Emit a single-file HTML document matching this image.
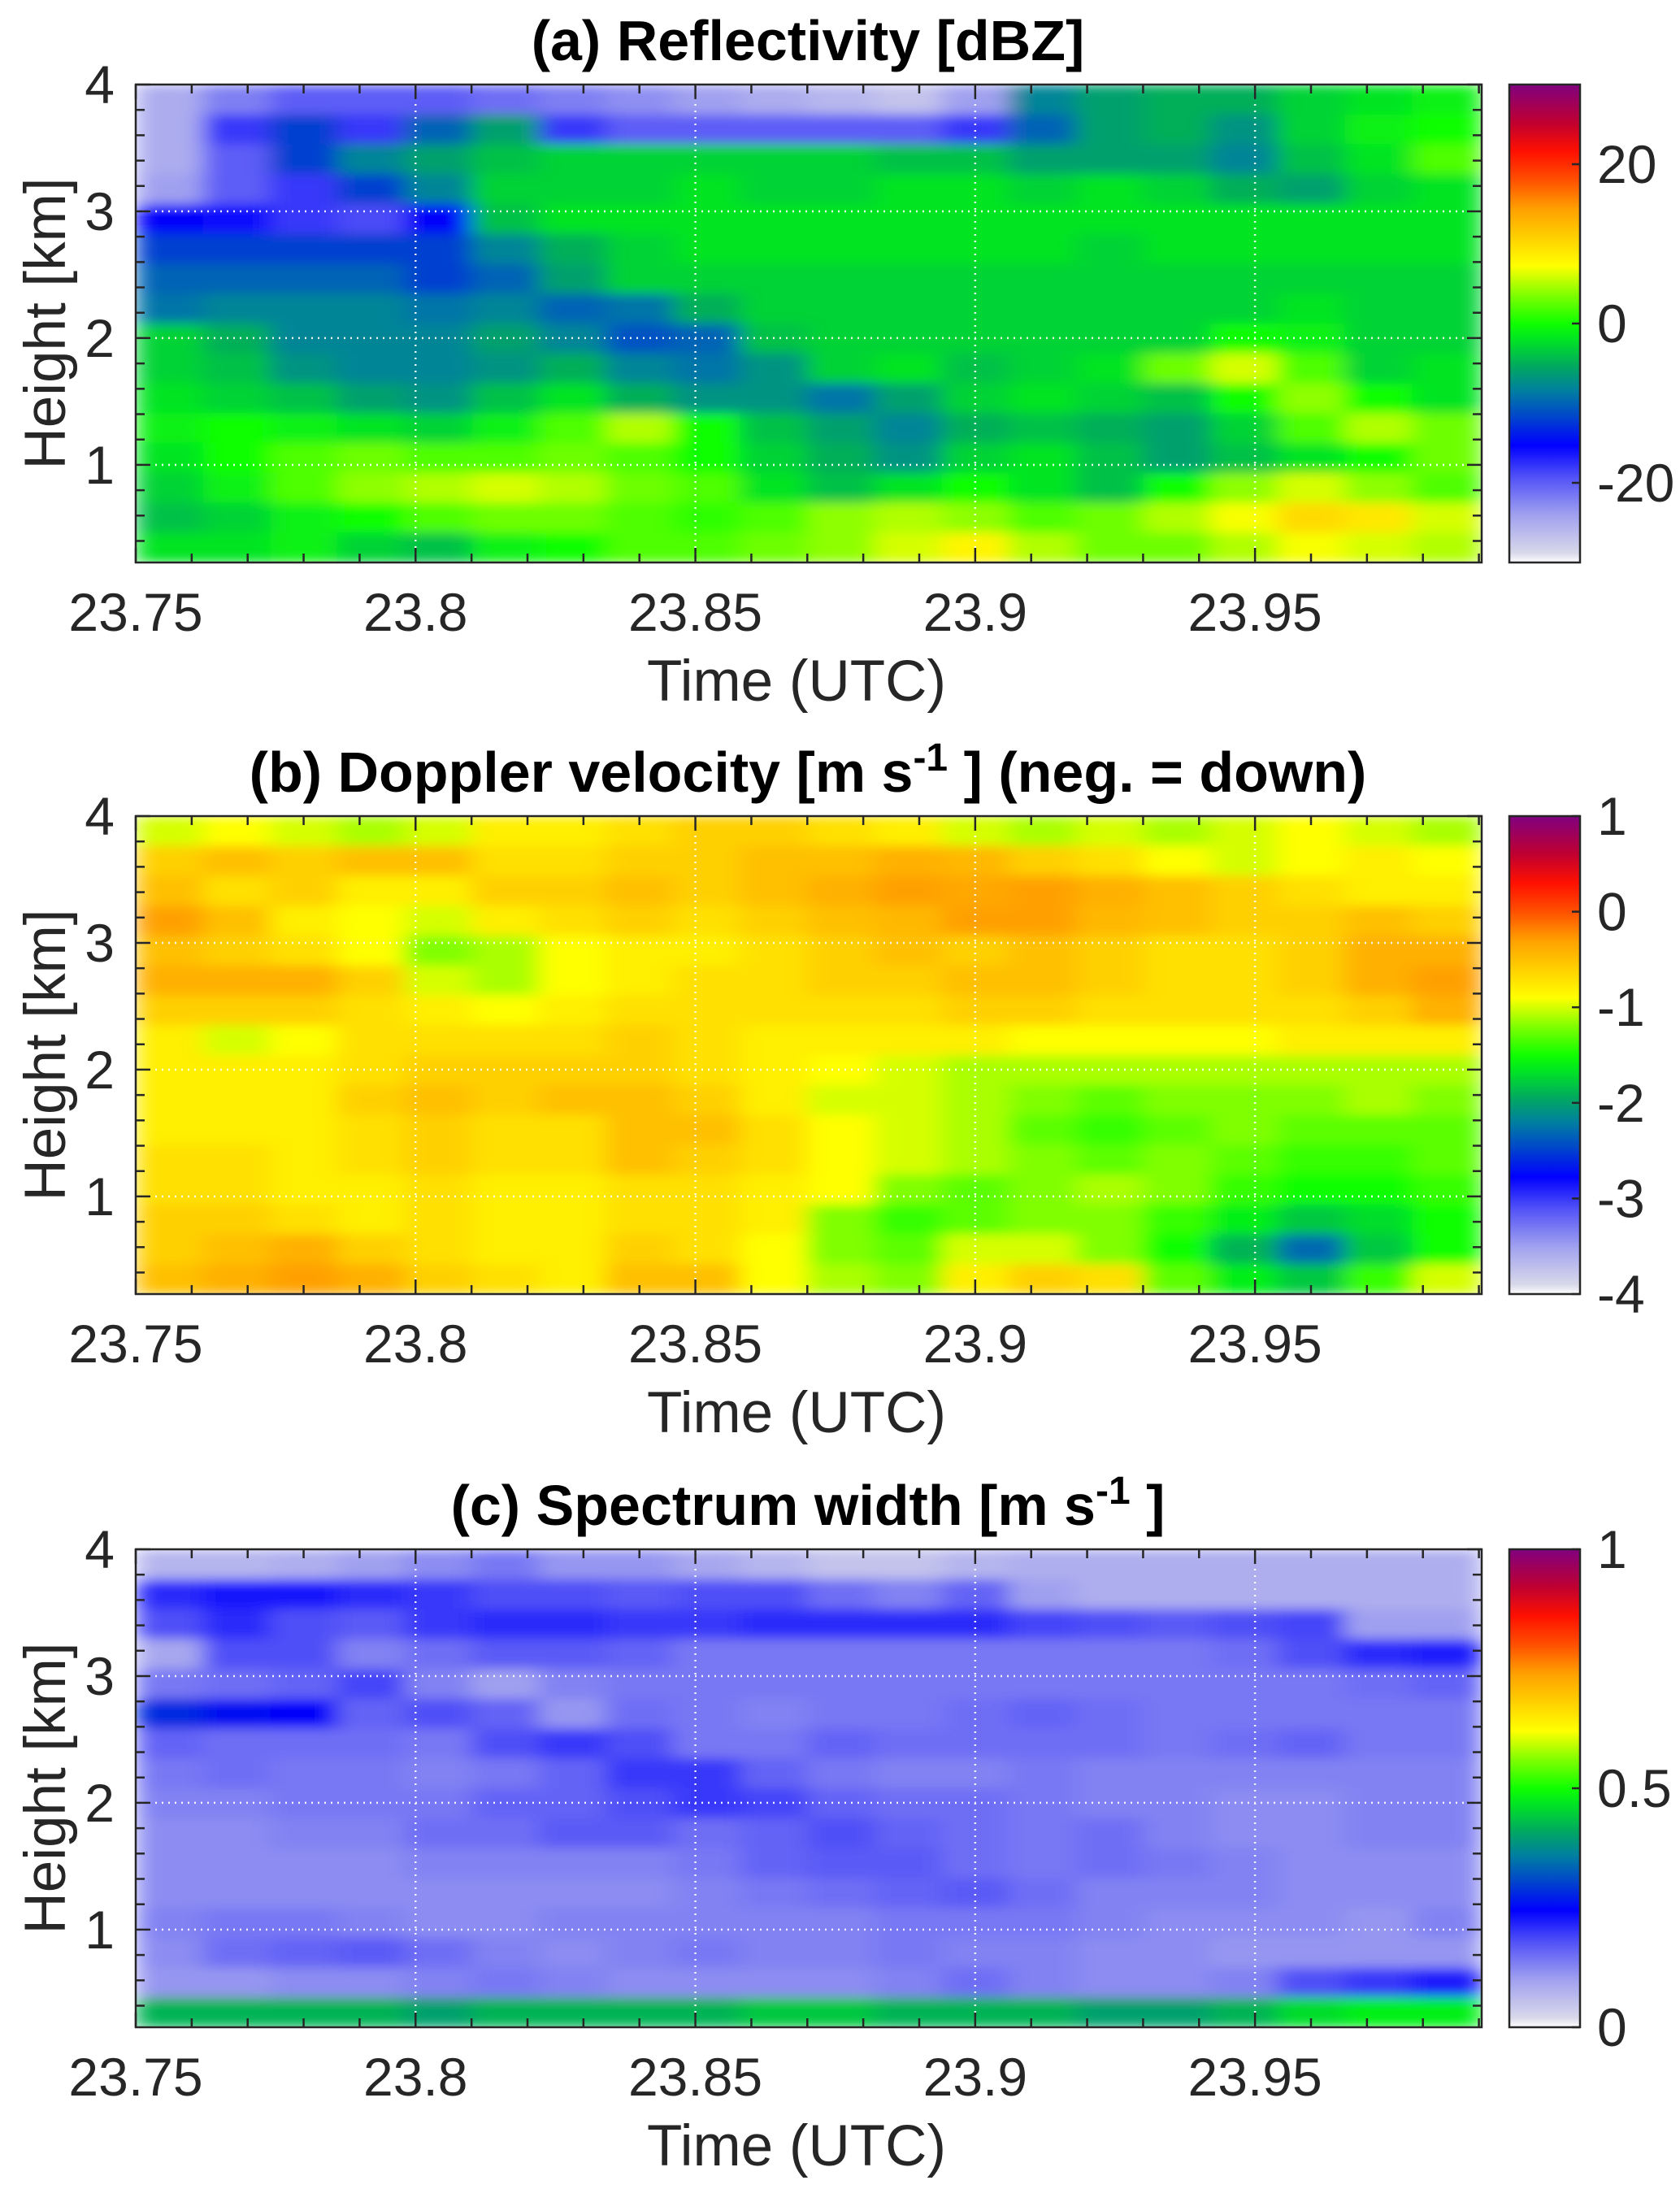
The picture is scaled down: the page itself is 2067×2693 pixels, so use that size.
<!DOCTYPE html>
<html><head><meta charset="utf-8">
<style>
html,body{margin:0;padding:0;background:#fff;}
svg{display:block;font-family:"Liberation Sans",Arial,sans-serif;}
</style></head>
<body>
<svg id="fig" width="2067" height="2693" viewBox="0 0 2067 2693" xmlns="http://www.w3.org/2000/svg">
<defs>
<linearGradient id="cmapGrad" x1="0" y1="1" x2="0" y2="0"></linearGradient>
</defs>
</svg>
<script>
// ---- shared axis data ----
const timeTicks = [23.75, 23.8, 23.85, 23.9, 23.95];
const timeTickLabels = ["23.75", "23.8", "23.85", "23.9", "23.95"];
const heightTicks = [1, 2, 3, 4];
const heightTickLabels = ["1", "2", "3", "4"];
const timeRange = [23.75, 23.9905];
const heightRange = [0.23, 4.0];
// cell grid: 20 time columns, 16 height rows (top row first)
const timeCols = [23.75,23.762,23.774,23.786,23.798,23.81,23.822,23.834,23.846,23.858,23.87,23.882,23.894,23.906,23.918,23.93,23.942,23.954,23.966,23.978,23.9905];
const heightRows = [4.0,3.764,3.529,3.293,3.058,2.822,2.586,2.351,2.115,1.879,1.644,1.408,1.173,0.937,0.701,0.466,0.23];

// ---- panel (a) reflectivity [dBZ] ----
const reflectivity = [
[-25,-22,-20,-20,-20,-21,-22,-23,-24,-25,-26,-27,-24,-8,-6,-5,-5,-3,-2,-1],
[-25,-18,-12,-18,-10,-6,-18,-20,-20,-20,-20,-20,-18,-10,-6,-5,-7,-3,-1,0],
[-25,-20,-12,-8,-6,-4,-3,-3,-3,-3,-3,-4,-4,-6,-6,-6,-8,-4,-2,2],
[-24,-20,-18,-12,-8,-3,-3,-3,-2,-3,-3,-2,-2,-3,-2,-3,-5,-6,-3,-2],
[-15,-16,-18,-19,-15,-4,-2,-2,-2,-2,-2,-2,-2,-2,-2,-2,-2,-2,-2,-2],
[-12,-12,-12,-12,-12,-8,-5,-3,-2,-2,-2,-2,-2,-2,-3,-2,-2,-2,-2,-2],
[-10,-10,-10,-10,-12,-10,-6,-3,-3,-3,-3,-3,-3,-3,-3,-3,-3,-3,-3,-3],
[-9,-8,-8,-8,-9,-8,-10,-9,-5,-3,-3,-3,-3,-3,-3,-3,-3,-2,-3,-3],
[-3,-5,-8,-8,-8,-6,-8,-11,-10,-4,-3,-3,-3,-3,-3,-3,0,-1,-3,-3],
[-3,-4,-7,-8,-8,-7,-5,-8,-9,-7,-3,-2,-4,-3,-2,3,6,2,-3,-2],
[-2,-3,-4,-6,-7,-4,-2,-5,-7,-7,-9,-6,-3,-2,-3,-4,0,4,0,-2],
[-1,0,-1,-2,-3,-1,2,5,0,-4,-6,-8,-5,-4,-5,-6,-3,2,5,3],
[-2,0,2,3,2,2,3,2,0,-3,-5,-7,-3,-2,-4,-6,-4,-2,0,3],
[-3,-1,2,4,5,6,5,3,2,-2,-4,-2,0,-2,-4,0,4,6,4,2],
[-4,-3,-1,0,2,3,3,2,1,2,4,5,4,2,3,5,7,10,9,6],
[-2,-2,-1,-3,-4,-1,0,2,2,3,4,6,8,5,3,3,5,7,6,5]
];
const reflRange = [-30, 30];
const reflTicks = [-20, 0, 20];
const reflTickLabels = ["-20", "0", "20"];

// ---- panel (b) Doppler velocity [m/s] ----
const velocity = [
[-1.0,-0.9,-1.0,-1.1,-1.0,-0.8,-0.8,-0.7,-0.6,-0.6,-0.7,-0.8,-1.0,-1.1,-1.0,-1.1,-1.0,-0.9,-1.0,-1.1],
[-0.6,-0.5,-0.6,-0.5,-0.5,-0.7,-0.7,-0.6,-0.6,-0.5,-0.5,-0.4,-0.45,-0.6,-0.7,-0.9,-1.0,-0.9,-0.8,-0.9],
[-0.5,-0.7,-0.6,-0.8,-0.8,-0.6,-0.6,-0.5,-0.6,-0.5,-0.4,-0.3,-0.35,-0.3,-0.4,-0.5,-0.6,-0.7,-0.8,-0.8],
[-0.3,-0.5,-0.8,-0.9,-1.0,-0.8,-0.7,-0.6,-0.7,-0.6,-0.5,-0.45,-0.3,-0.3,-0.45,-0.5,-0.6,-0.6,-0.5,-0.6],
[-0.5,-0.6,-0.7,-0.9,-1.2,-1.1,-0.9,-0.8,-0.8,-0.7,-0.6,-0.5,-0.6,-0.5,-0.6,-0.7,-0.7,-0.6,-0.4,-0.4],
[-0.4,-0.4,-0.4,-0.6,-1.0,-1.1,-0.9,-0.8,-0.7,-0.7,-0.6,-0.6,-0.5,-0.5,-0.6,-0.7,-0.7,-0.6,-0.4,-0.3],
[-0.6,-0.6,-0.6,-0.7,-0.8,-0.9,-0.8,-0.7,-0.7,-0.7,-0.7,-0.7,-0.6,-0.6,-0.7,-0.7,-0.7,-0.7,-0.6,-0.4],
[-0.8,-1.0,-0.9,-0.7,-0.7,-0.7,-0.7,-0.6,-0.7,-0.8,-0.8,-0.8,-0.8,-0.9,-0.9,-0.9,-0.9,-0.8,-0.8,-0.8],
[-0.8,-0.8,-0.8,-0.7,-0.6,-0.6,-0.6,-0.6,-0.7,-0.8,-0.9,-1.0,-1.1,-1.1,-1.1,-1.1,-1.1,-1.1,-1.1,-1.1],
[-0.8,-0.8,-0.8,-0.6,-0.5,-0.6,-0.5,-0.5,-0.6,-0.8,-1.0,-1.0,-1.1,-1.2,-1.3,-1.2,-1.2,-1.2,-1.1,-1.2],
[-0.8,-0.8,-0.8,-0.7,-0.6,-0.7,-0.7,-0.5,-0.5,-0.7,-0.9,-1.0,-1.1,-1.3,-1.4,-1.3,-1.2,-1.3,-1.3,-1.3],
[-0.7,-0.7,-0.8,-0.7,-0.6,-0.7,-0.7,-0.5,-0.6,-0.7,-0.9,-1.0,-1.1,-1.2,-1.3,-1.2,-1.3,-1.4,-1.4,-1.3],
[-0.7,-0.7,-0.8,-0.8,-0.7,-0.8,-0.8,-0.7,-0.7,-0.8,-0.9,-1.2,-1.3,-1.2,-1.1,-1.2,-1.4,-1.5,-1.5,-1.4],
[-0.6,-0.6,-0.7,-0.8,-0.7,-0.8,-0.8,-0.7,-0.7,-0.8,-1.2,-1.4,-1.3,-1.2,-1.2,-1.4,-1.6,-1.8,-1.7,-1.5],
[-0.6,-0.5,-0.4,-0.6,-0.7,-0.8,-0.8,-0.6,-0.7,-0.9,-1.2,-1.3,-1.0,-1.0,-1.2,-1.5,-1.9,-2.3,-1.8,-1.5],
[-0.5,-0.4,-0.3,-0.4,-0.6,-0.7,-0.8,-0.5,-0.5,-0.9,-1.1,-1.2,-0.8,-0.6,-0.7,-1.3,-1.6,-1.8,-1.4,-1.0]
];
const velRange = [-4, 1];
const velTicks = [-4, -3, -2, -1, 0, 1];
const velTickLabels = ["-4", "-3", "-2", "-1", "0", "1"];

// ---- panel (c) spectrum width [m/s] ----
const spectrumWidth = [
[0.07,0.07,0.08,0.10,0.12,0.14,0.11,0.11,0.09,0.07,0.05,0.05,0.07,0.08,0.08,0.08,0.08,0.08,0.08,0.08],
[0.21,0.23,0.23,0.21,0.20,0.18,0.18,0.17,0.18,0.18,0.15,0.13,0.16,0.10,0.08,0.08,0.08,0.08,0.08,0.08],
[0.18,0.21,0.18,0.17,0.20,0.21,0.21,0.20,0.20,0.21,0.21,0.21,0.21,0.19,0.18,0.17,0.18,0.19,0.10,0.10],
[0.09,0.18,0.18,0.13,0.15,0.17,0.17,0.16,0.14,0.14,0.14,0.14,0.14,0.14,0.14,0.14,0.15,0.18,0.21,0.22],
[0.14,0.15,0.16,0.19,0.13,0.10,0.13,0.14,0.14,0.14,0.14,0.14,0.14,0.14,0.14,0.14,0.14,0.14,0.15,0.16],
[0.28,0.26,0.25,0.16,0.18,0.16,0.11,0.15,0.14,0.13,0.14,0.14,0.15,0.16,0.15,0.14,0.14,0.14,0.14,0.14],
[0.16,0.15,0.15,0.15,0.14,0.18,0.20,0.18,0.14,0.14,0.16,0.15,0.15,0.15,0.15,0.14,0.15,0.16,0.14,0.14],
[0.14,0.15,0.14,0.14,0.13,0.14,0.16,0.20,0.20,0.16,0.14,0.13,0.13,0.14,0.13,0.13,0.13,0.13,0.13,0.13],
[0.13,0.13,0.14,0.14,0.14,0.16,0.16,0.18,0.20,0.19,0.16,0.15,0.15,0.14,0.13,0.13,0.12,0.12,0.13,0.13],
[0.12,0.12,0.13,0.13,0.15,0.15,0.17,0.17,0.15,0.16,0.18,0.16,0.15,0.14,0.15,0.13,0.12,0.12,0.13,0.13],
[0.12,0.12,0.12,0.12,0.13,0.13,0.13,0.13,0.14,0.16,0.17,0.17,0.15,0.14,0.15,0.14,0.13,0.12,0.12,0.12],
[0.12,0.12,0.12,0.12,0.12,0.12,0.12,0.12,0.13,0.14,0.15,0.16,0.17,0.15,0.13,0.13,0.13,0.12,0.12,0.12],
[0.13,0.14,0.14,0.13,0.12,0.12,0.13,0.13,0.13,0.13,0.13,0.14,0.14,0.14,0.13,0.12,0.12,0.12,0.11,0.13],
[0.12,0.15,0.16,0.17,0.15,0.13,0.12,0.13,0.14,0.13,0.13,0.14,0.13,0.13,0.12,0.12,0.11,0.11,0.11,0.11],
[0.11,0.11,0.12,0.12,0.13,0.14,0.13,0.12,0.12,0.12,0.12,0.13,0.15,0.13,0.12,0.12,0.13,0.18,0.20,0.22],
[0.42,0.42,0.42,0.42,0.40,0.42,0.42,0.42,0.42,0.44,0.44,0.42,0.42,0.42,0.40,0.40,0.42,0.46,0.48,0.48]
];
const swRange = [0, 1];
const swTicks = [0, 0.5, 1];
const swTickLabels = ["0", "0.5", "1"];

// colormap stops (fraction, colour)
const cmapStops = [[0,"#ffffff"],[0.02,"#d8d8ea"],[0.10,"#a0a0f0"],[0.18,"#5050f8"],[0.245,"#0000ff"],[0.30,"#0040d0"],[0.36,"#0080a0"],[0.41,"#00a860"],[0.44,"#00c840"],[0.47,"#00e820"],[0.50,"#10ff00"],[0.56,"#80ff00"],[0.62,"#ffff00"],[0.68,"#ffd000"],[0.74,"#ffa000"],[0.80,"#ff5000"],[0.86,"#ff1000"],[0.92,"#c00030"],[1,"#800080"]];

const NS = "http://www.w3.org/2000/svg";
const svg = document.getElementById("fig");
const defs = svg.querySelector("defs");
const grad = document.getElementById("cmapGrad");
cmapStops.forEach(s => { const st = document.createElementNS(NS, "stop"); st.setAttribute("offset", s[0]); st.setAttribute("stop-color", s[1]); grad.appendChild(st); });

function hex(c){return [parseInt(c.substr(1,2),16),parseInt(c.substr(3,2),16),parseInt(c.substr(5,2),16)];}
function cmap(f){
  f = Math.max(0, Math.min(1, f));
  for (let i = 1; i < cmapStops.length; i++) {
    if (f <= cmapStops[i][0]) {
      const a = cmapStops[i-1], b = cmapStops[i];
      const t = (f - a[0]) / (b[0] - a[0]);
      const ca = hex(a[1]), cb = hex(b[1]);
      return "rgb(" + ca.map((v,k)=>Math.round(v + (cb[k]-v)*t)).join(",") + ")";
    }
  }
  return cmapStops[cmapStops.length-1][1];
}
function mk(tag, attrs, parent){ const e = document.createElementNS(NS, tag); for (const k in attrs) e.setAttribute(k, attrs[k]); (parent||svg).appendChild(e); return e; }

const PL = 167, PR = 1823, CBL = 1857, CBR = 1944;
function panel(idx, top, bottom, key, data, range, cTicks, cLabels, titleParts) {
  const x = t => PL + (t - timeRange[0]) / (timeRange[1] - timeRange[0]) * (PR - PL);
  const y = h => bottom - (h - heightRange[0]) / (heightRange[1] - heightRange[0]) * (bottom - top);
  const cy = v => bottom - (v - range[0]) / (range[1] - range[0]) * (bottom - top);
  const g = mk("g", {});
  
  
  const f = mk("filter", {id: "blur"+idx, filterUnits: "userSpaceOnUse", x: PL, y: top, width: PR-PL, height: bottom-top}, defs);
  mk("feGaussianBlur", {stdDeviation: "14 7", edgeMode: "duplicate"}, f);
  const hm = mk("g", {filter: "url(#blur"+idx+")"}, g);
  
  
  for (let r = 0; r < data.length; r++) {
    for (let c = 0; c < data[r].length; c++) {
      const x0 = x(timeCols[c]), x1 = x(timeCols[c+1]);
      const y0 = y(heightRows[r]), y1 = y(heightRows[r+1]);
      const cell = mk("rect", {x: x0, y: y0, width: x1-x0+0.5, height: y1-y0+0.5, fill: cmap((data[r][c]-range[0])/(range[1]-range[0]))}, hm);
      
      
    }
  }
  const grid = mk("g", {stroke: "#ffffff", "stroke-width": 2.5, "stroke-dasharray": "2 6", opacity: 0.9}, g);
  
  
  timeTicks.forEach(t => { if (t > timeRange[0]) mk("line", {x1: x(t), x2: x(t), y1: top, y2: bottom}, grid); });
  heightTicks.forEach(h => { if (h < heightRange[1]) mk("line", {x1: PL, x2: PR, y1: y(h), y2: y(h)}, grid); });
  const tk = mk("g", {stroke: "#262626", "stroke-width": 2.5}, g);
  
  
  for (let i = 0; i <= 24; i++) {
    const t = 23.75 + i * 0.01; if (t > timeRange[1]) break;
    const L = (i % 5 === 0) ? 18 : 11;
    mk("line", {x1: x(t), x2: x(t), y1: bottom, y2: bottom - L}, tk);
    mk("line", {x1: x(t), x2: x(t), y1: top, y2: top + L}, tk);
  }
  for (let i = 0; i <= 20; i++) {
    const h = 0.2 * i; if (h < heightRange[0]) continue; if (h > 4.001) break;
    const L = (i % 5 === 0) ? 18 : 11;
    mk("line", {x1: PL, x2: PL + L, y1: y(h), y2: y(h)}, tk);
    mk("line", {x1: PR, x2: PR - L, y1: y(h), y2: y(h)}, tk);
  }
  const frame = mk("rect", {x: PL, y: top, width: PR-PL, height: bottom-top, fill: "none", stroke: "#262626", "stroke-width": 2.5}, g);
  
  
  timeTicks.forEach((t, i) => {
    const tl = mk("text", {x: x(t), y: bottom + 84, "text-anchor": "middle", "font-size": 66, fill: "#262626"}, g);
    tl.textContent = timeTickLabels[i];
    
    
  });
  heightTicks.forEach((h, i) => {
    const tl = mk("text", {x: 141, y: y(h) + 23, "text-anchor": "end", "font-size": 66, fill: "#262626"}, g);
    tl.textContent = heightTickLabels[i];
    
    
  });
  const xt = mk("text", {x: (PL+PR)/2 - 15, y: bottom + 170, "text-anchor": "middle", "font-size": 71, fill: "#262626"}, g);
  xt.textContent = "Time (UTC)";
  
  
  const yt = mk("text", {x: 0, y: 0, transform: "translate(80," + ((top+bottom)/2) + ") rotate(-90)", "text-anchor": "middle", "font-size": 71, fill: "#262626"}, g);
  yt.textContent = "Height [km]";
  
  
  const tt = mk("text", {x: 994, y: top - 30, "text-anchor": "middle", "font-size": 70, "font-weight": "bold", fill: "#000"}, g);
  
  
  titleParts.forEach(p => {
    const ts = mk("tspan", {}, tt);
    if (p[1]) { ts.setAttribute("baseline-shift", "super"); ts.setAttribute("font-size", 48); }
    ts.textContent = p[0];
  });
  const cb = mk("rect", {x: CBL, y: top, width: CBR-CBL, height: bottom-top, fill: "url(#cmapGrad)", stroke: "#262626", "stroke-width": 2.5}, g);
  
  
  cTicks.forEach((v, i) => {
    mk("line", {x1: CBR, x2: CBR - 10, y1: cy(v), y2: cy(v), stroke: "#262626", "stroke-width": 2.5}, g);
    const cl = mk("text", {x: 1965, y: cy(v) + 23, "font-size": 66, fill: "#262626"}, g);
    cl.textContent = cLabels[i];
    
    
  });
}
panel(0, 104, 692, "reflectivity", reflectivity, reflRange, reflTicks, reflTickLabels, [["(a) Reflectivity [dBZ]", false]]);
panel(1, 1004, 1592, "doppler-velocity", velocity, velRange, velTicks, velTickLabels, [["(b) Doppler velocity [m s", false], ["-1", true], [" ] (neg. = down)", false]]);
panel(2, 1906, 2494, "spectrum-width", spectrumWidth, swRange, swTicks, swTickLabels, [["(c) Spectrum width [m s", false], ["-1", true], [" ]", false]]);
</script>
</body></html>
